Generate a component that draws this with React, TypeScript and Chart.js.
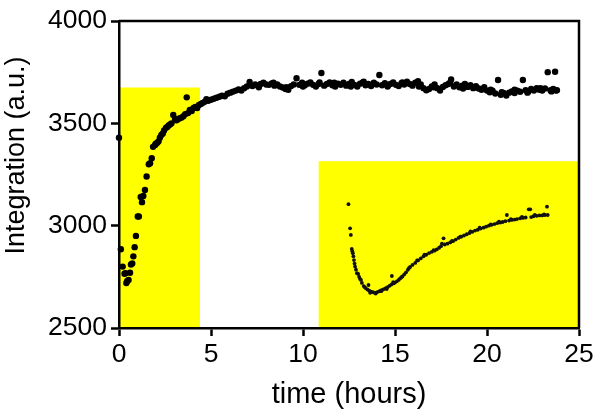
import { useEffect, useRef } from "react";
import { Chart, registerables } from "chart.js";

Chart.register(...registerables);

// Main time course (hours, a.u.)
const mainTime = [
  0, 0.1, 0.2, 0.3, 0.35, 0.4, 0.45, 0.52, 0.6, 0.65, 0.72, 0.78, 0.85, 0.92, 1.02, 1.08, 1.18, 1.25, 1.32, 1.41,
  1.5, 1.62, 1.69, 1.78, 1.85, 1.96, 2.0, 2.08, 2.15, 2.22, 2.3, 2.38, 2.45, 2.55, 2.62, 2.7, 2.78, 2.85, 2.95, 3.05,
  3.12, 3.2, 3.3, 3.4, 3.5, 3.6, 3.68, 3.75, 3.85, 3.95, 4.05, 4.15, 4.25, 4.35, 4.45, 4.55, 4.65, 4.75, 4.85,
  5.0, 5.15, 5.3, 5.45, 5.6, 5.75, 5.9, 6.05, 6.2, 6.35, 6.5, 6.65, 6.8, 6.95, 7.1, 7.25, 7.4, 7.55, 7.7, 7.85,
  8.0, 8.15, 8.3, 8.45, 8.6, 8.75, 8.9, 9.05, 9.2, 9.35, 9.5, 9.65, 9.8, 9.95, 10.1, 10.25, 10.4, 10.55, 10.7, 10.85,
  11.0, 11.15, 11.3, 11.45, 11.6, 11.75, 11.9, 12.05, 12.2, 12.35, 12.5, 12.65, 12.8, 12.95, 13.1, 13.25, 13.4, 13.55, 13.7, 13.85,
  14.0, 14.15, 14.3, 14.45, 14.6, 14.75, 14.9, 15.05, 15.2, 15.35, 15.5, 15.65, 15.8, 15.95, 16.1, 16.25, 16.4, 16.55, 16.7, 16.85,
  17.0, 17.15, 17.3, 17.45, 17.6, 17.75, 17.9, 18.05, 18.2, 18.35, 18.5, 18.65, 18.8, 18.95, 19.1, 19.25, 19.4, 19.55, 19.7, 19.85,
  20.0, 20.15, 20.3, 20.45, 20.6, 20.75, 20.9, 21.05, 21.2, 21.35, 21.5, 21.65, 21.8, 21.95, 22.1, 22.25, 22.4, 22.55, 22.7, 22.85,
  23.0, 23.15, 23.3, 23.45, 23.6, 23.7, 23.75, 23.8,
  7.6, 8.4, 9.1, 10.0, 10.9, 11.7, 12.6, 13.3, 14.6, 15.4, 16.3, 17.1, 18.0, 18.7, 19.4, 20.2, 20.8, 21.5, 22.2, 22.9, 23.5,
];
const mainValue = [
  3430, 2885, 2800, 2765, 2768, 2720, 2730, 2735, 2770, 2810, 2815, 2850, 2895, 2950, 3045, 3045, 3140, 3115, 3145, 3174,
  3240, 3300, 3305, 3330, 3385, 3394, 3400, 3405, 3412, 3430, 3443, 3450, 3465, 3478, 3482, 3490, 3495, 3500, 3541, 3520,
  3515, 3520, 3525, 3528, 3535, 3545, 3627, 3550, 3565, 3560, 3575, 3580, 3575, 3590, 3595, 3600, 3605, 3618, 3610,
  3615, 3620, 3625, 3630, 3635, 3632, 3645, 3650, 3655, 3660, 3665, 3660, 3672, 3680, 3702, 3682, 3690, 3684, 3692, 3698,
  3690, 3688, 3695, 3684, 3690, 3680, 3675, 3668, 3664, 3682, 3690, 3720, 3688, 3698, 3686, 3694, 3700, 3688, 3680, 3692,
  3746, 3684, 3692, 3700, 3686, 3680, 3694, 3688, 3698, 3684, 3692, 3702, 3688, 3680, 3694, 3700, 3686, 3692, 3682, 3698,
  3690, 3736, 3686, 3696, 3684, 3692, 3700, 3688, 3682, 3696, 3690, 3704, 3692, 3684, 3698, 3706, 3690, 3672, 3662, 3668,
  3680, 3690, 3672, 3660, 3678, 3686, 3692, 3714, 3680, 3690, 3676, 3684, 3692, 3678, 3686, 3672, 3682, 3670, 3664, 3676,
  3660, 3652, 3660, 3646, 3712, 3640, 3648, 3636, 3650, 3656, 3648, 3660, 3654, 3712, 3662, 3656, 3668, 3660, 3672, 3664,
  3660, 3670, 3750, 3662, 3668, 3752, 3660, 3662,
  3676, 3698, 3676, 3680, 3700, 3698, 3680, 3704, 3680, 3700, 3680, 3676, 3700, 3670, 3676, 3664, 3652, 3664, 3650, 3672, 3656,
];

// Inset curve (plotted in the main axes' units)
const insetTime = [
  12.47, 12.56, 12.6, 12.65, 12.68, 12.71, 12.74, 12.77, 12.8, 12.83, 12.88, 12.93, 13.0, 13.05, 13.1, 13.2, 13.3, 13.4, 13.5, 13.56,
  13.6, 13.7, 13.8, 13.9, 14.0, 14.1, 14.2, 14.3, 14.4, 14.5, 14.6, 14.7, 14.8, 14.83, 14.92, 15.0, 15.1, 15.2, 15.28, 15.4,
  15.5, 15.6, 15.7, 15.82, 15.95, 16.1, 16.25, 16.4, 16.55, 16.7, 16.85, 17.0, 17.15, 17.27, 17.4, 17.5, 17.64, 17.7, 17.85, 18.0,
  18.15, 18.3, 18.45, 18.6, 18.75, 18.9, 19.05, 19.2, 19.35, 19.5, 19.65, 19.81, 19.95, 20.1, 20.25, 20.4, 20.55, 20.72, 20.85, 21.0,
  21.08, 21.2, 21.35, 21.5, 21.63, 21.8, 21.95, 22.1, 22.27, 22.35, 22.4, 22.53, 22.7, 22.85, 23.0, 23.15, 23.26, 23.3,
  13.15, 13.35, 13.65, 13.95, 14.25, 14.55, 14.9, 15.35, 15.75, 16.2, 16.6, 17.1, 17.55, 18.1, 18.55, 19.1, 19.6, 20.2, 20.65, 21.3, 21.9, 22.6, 23.1,
];
const insetValue = [
  3105, 2987, 2955, 2886, 2875, 2865, 2850, 2832, 2815, 2800, 2785, 2768, 2764, 2750, 2740, 2720, 2705, 2695, 2688, 2710,
  2682, 2678, 2675, 2672, 2674, 2678, 2682, 2686, 2690, 2695, 2700, 2706, 2712, 2754, 2718, 2722, 2728, 2735, 2742, 2752,
  2762, 2772, 2784, 2798, 2808, 2818, 2830, 2840, 2850, 2858, 2866, 2872, 2878, 2884, 2892, 2900, 2938, 2908, 2912, 2918,
  2924, 2932, 2940, 2946, 2952, 2958, 2964, 2970, 2976, 2980, 2986, 2990, 2995, 3000, 3004, 3008, 3012, 3015, 3018, 3022,
  3052, 3025, 3028, 3030, 3032, 3036, 3038, 3040, 3080, 3080, 3042, 3046, 3048, 3050, 3050, 3052, 3093, 3052,
  2735, 2700, 2672, 2668, 2680, 2690, 2724, 2748, 2792, 2830, 2858, 2880, 2912, 2926, 2946, 2972, 2990, 3006, 3020, 3032, 3043, 3052, 3055,
];

const xTicks = [0, 5, 10, 15, 20, 25];
const yTicks = [2500, 3000, 3500, 4000];

const xTitle = "time (hours)";
const yTitle = "Integration (a.u.)";

// Highlighted (yellow) regions, in data units
const regionStart = [0, 10.85];
const regionEnd = [4.4, 25];
const regionTop = [3675, 3315];
const regionBottom = [2500, 2500];

const FONT = "'Liberation Sans', Arial, Helvetica, sans-serif";

const regionsPlugin = {
  id: "regions",
  beforeDraw(chart: any) {
    const { ctx, scales } = chart;
    const x = scales.x;
    const y = scales.y;
    ctx.save();
    ctx.fillStyle = "#ffff00";
    for (let i = 0; i < regionStart.length; i++) {
      const l = x.getPixelForValue(regionStart[i]);
      const r = x.getPixelForValue(regionEnd[i]);
      const t = y.getPixelForValue(regionTop[i]);
      const b = y.getPixelForValue(regionBottom[i]);
      ctx.fillRect(l, t, r - l, b - t);
    }
    ctx.restore();
  },
};

const framePlugin = {
  id: "frame",
  afterDraw(chart: any) {
    const { ctx, chartArea } = chart;
    ctx.save();
    ctx.strokeStyle = "#000";
    ctx.lineWidth = 2.5;
    ctx.beginPath();
    ctx.moveTo(chartArea.left, chartArea.top);
    ctx.lineTo(chartArea.right, chartArea.top);
    ctx.lineTo(chartArea.right, chartArea.bottom);
    ctx.stroke();
    // y-axis title (sits a little above the plot's vertical centre, as in the original)
    const cy = (chartArea.top + chartArea.bottom) / 2 - 19;
    ctx.translate(17, cy);
    ctx.rotate(-Math.PI / 2);
    ctx.fillStyle = "#000";
    ctx.font = `27px ${FONT}`;
    ctx.textAlign = "center";
    ctx.textBaseline = "middle";
    ctx.fillText(yTitle, 0, 0);
    ctx.restore();
  },
};

export default function App() {
  const canvasRef = useRef<HTMLCanvasElement | null>(null);

  useEffect(() => {
    if (!canvasRef.current) return;
    const mainData = mainTime.map((t, i) => ({ x: t, y: mainValue[i] }));
    const insetData = insetTime.map((t, i) => ({ x: t, y: insetValue[i] }));

    const chart = new Chart(canvasRef.current, {
      type: "scatter",
      data: {
        datasets: [
          {
            label: "inset",
            data: insetData,
            pointRadius: 1.9,
            pointBackgroundColor: "#111",
            pointBorderWidth: 0,
            clip: false,
          } as any,
          {
            label: "main",
            data: mainData,
            pointRadius: 3.2,
            pointBackgroundColor: "#000",
            pointBorderWidth: 0,
            clip: false,
          } as any,
        ],
      },
      options: {
        responsive: false,
        animation: false,
        devicePixelRatio: 1,
        layout: { padding: { left: 0, right: 21, top: 21, bottom: 0 } },
        plugins: { legend: { display: false }, tooltip: { enabled: false } },
        scales: {
          x: {
            type: "linear",
            min: 0,
            max: 25,
            afterBuildTicks: (scale: any) => {
              scale.ticks = xTicks.map((v) => ({ value: v }));
            },
            afterFit: (scale: any) => {
              scale.height = 89;
            },
            grid: {
              drawOnChartArea: false,
              drawTicks: true,
              tickLength: 8,
              tickWidth: 2.5,
              tickColor: "#000",
            },
            border: { display: true, color: "#000", width: 2.5 },
            ticks: {
              color: "#000",
              padding: 3,
              font: { family: FONT, size: 26.5 },
              maxRotation: 0,
              callback: (v: any) => String(v),
            },
            title: {
              display: true,
              text: xTitle,
              color: "#000",
              font: { family: FONT, size: 29 },
              padding: { top: 0, bottom: 5 },
            },
          },
          y: {
            type: "linear",
            min: 2500,
            max: 4000,
            afterBuildTicks: (scale: any) => {
              scale.ticks = yTicks.map((v) => ({ value: v }));
            },
            afterFit: (scale: any) => {
              scale.width = 119;
            },
            grid: {
              drawOnChartArea: false,
              drawTicks: true,
              tickLength: 8,
              tickWidth: 2.5,
              tickColor: "#000",
            },
            border: { display: true, color: "#000", width: 2.5 },
            ticks: {
              color: "#000",
              padding: 4,
              font: { family: FONT, size: 26.5 },
              callback: (v: any) => String(v),
            },
            title: { display: false },
          },
        },
      },
      plugins: [regionsPlugin, framePlugin],
    });
    return () => chart.destroy();
  }, []);

  return (
    <div style={{ position: "absolute", left: 0, top: 0, width: 600, height: 417, background: "#fff" }}>
      <canvas ref={canvasRef} width={600} height={417} style={{ display: "block" }} />
    </div>
  );
}
